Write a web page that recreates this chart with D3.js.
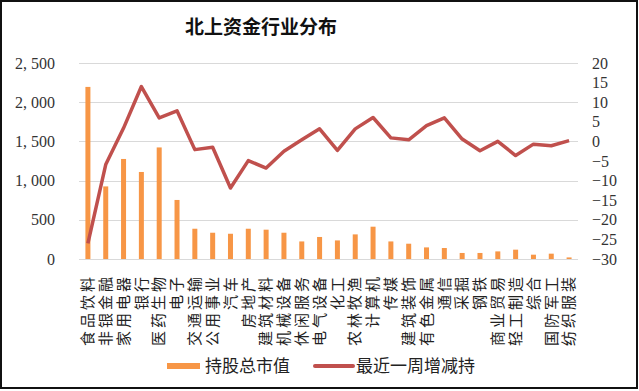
<!DOCTYPE html>
<html>
<head>
<meta charset="utf-8">
<script src="https://cdn.jsdelivr.net/npm/d3@7"></script>
<style>
    body { margin: 0; background: #fff; }
    text { font-family: "Noto Sans CJK SC", sans-serif; fill: #333; }
    .num { font-family: "Liberation Serif", "DejaVu Serif", serif; }
</style>
</head>
<body>
<svg id="chart" width="639" height="391"></svg>
<script>
/**
 * 北上资金行业分布 - bars for holdings, line for weekly change
 */

let categories = ["食品饮料", "非银金融", "家用电器", "银行", "医药生物", "电子", "交通运输",
    "公用事业", "汽车", "房地产", "建筑材料", "机械设备", "休闲服务", "电气设备", "化工",
    "农林牧渔", "计算机", "传媒", "建筑装饰", "有色金属", "通信", "采掘", "钢铁", "商业贸易",
    "轻工制造", "综合", "国防军工", "纺织服装"];

// 持股总市值
let holdValues = [2195, 926, 1276, 1110, 1423, 753, 386, 335, 322, 386, 374, 335, 224, 281,
    237, 314, 412, 224, 195, 148, 140, 77, 77, 97, 119, 55, 68, 20];

// 最近一周增减持
let changeValues = [-26, -5.9, 3.4, 14.0, 6.0, 7.8, -2.1, -1.5, -11.9, -4.9, -6.8, -2.5, 0.4,
    3.2, -2.3, 3.2, 6.1, 0.9, 0.4, 4.0, 6.0, 0.6, -2.4, 0, -3.6, -0.7, -1.1, 0.2];

let leftTicks = [0, 500, 1000, 1500, 2000, 2500];
let rightTicks = [-30, -25, -20, -15, -10, -5, 0, 5, 10, 15, 20];

let margin = {
    top: 63,
    left: 79,
    bottom: 132,
    right: 61
};

let barColor = "#F79646";
let lineColor = "#C0504D";
let gridColor = "#D9D9D9";

let svg = d3.select("#chart");
let width = +svg.attr("width");
let height = +svg.attr("height");

let x = d3.scaleBand()
    .domain(categories)
    .range([margin.left, width - margin.right]);

let yLeft = d3.scaleLinear()
    .domain([0, 2500])
    .range([height - margin.bottom, margin.top]);

let yRight = d3.scaleLinear()
    .domain([-30, 20])
    .range([height - margin.bottom, margin.top]);

// frame around the whole picture
svg.append("rect")
    .attr("x", 1)
    .attr("y", 1)
    .attr("width", 636)
    .attr("height", 387)
    .attr("fill", "none")
    .attr("stroke", "#111")
    .attr("stroke-width", 2);

// title
svg.append("text")
    .attr("x", 261)
    .attr("y", 27)
    .attr("dy", "0.35em")
    .attr("text-anchor", "middle")
    .attr("font-size", 19)
    .attr("font-weight", 600)
    .style("fill", "#111")
    .text("北上资金行业分布");

// gridlines
svg.append("g")
    .selectAll("line")
    .data(leftTicks)
    .enter()
    .append("line")
    .attr("x1", margin.left)
    .attr("x2", width - margin.right)
    .attr("y1", d => Math.round(yLeft(d)) + 0.5)
    .attr("y2", d => Math.round(yLeft(d)) + 0.5)
    .attr("stroke", gridColor)
    .attr("stroke-width", 1);

// left axis labels
svg.append("g")
    .selectAll("text")
    .data(leftTicks)
    .enter()
    .append("text")
    .attr("class", "num")
    .attr("x", 55)
    .attr("y", d => yLeft(d))
    .attr("dy", "0.35em")
    .attr("text-anchor", "end")
    .attr("font-size", 16)
    .text(d => d3.format(",")(d).replace(",", ", "));

// right axis labels
svg.append("g")
    .selectAll("text")
    .data(rightTicks)
    .enter()
    .append("text")
    .attr("class", "num")
    .attr("x", 592)
    .attr("y", d => yRight(d))
    .attr("dy", "0.35em")
    .attr("font-size", 16)
    .text(d => d < 0 ? "\u2212" + Math.abs(d) : d);

// bars
let barWidth = 5;
svg.append("g")
    .selectAll("rect")
    .data(holdValues)
    .enter()
    .append("rect")
    .attr("x", (d, i) => x(categories[i]) + x.bandwidth() / 2 - barWidth / 2)
    .attr("y", d => yLeft(d))
    .attr("width", barWidth)
    .attr("height", d => yLeft(0) - yLeft(d))
    .attr("fill", barColor);

// line
let line = d3.line()
    .x((d, i) => x(categories[i]) + x.bandwidth() / 2)
    .y(d => yRight(d));

svg.append("path")
    .datum(changeValues)
    .attr("d", line)
    .attr("fill", "none")
    .attr("stroke", lineColor)
    .attr("stroke-width", 3.5)
    .attr("stroke-linejoin", "round");

// category labels, rotated to read bottom-to-top
svg.append("g")
    .selectAll("text")
    .data(categories)
    .enter()
    .append("text")
    .attr("transform", d => "translate(" + (x(d) + x.bandwidth() / 2) + "," + 274 + ") rotate(-90)")
    .attr("dy", "0.35em")
    .attr("text-anchor", "end")
    .attr("font-size", 15)
    .attr("letter-spacing", 3)
    .style("fill", "#222")
    .text(d => d);

// legend
let legend = svg.append("g");
legend.append("rect")
    .attr("x", 167)
    .attr("y", 363)
    .attr("width", 33)
    .attr("height", 6)
    .attr("fill", barColor);
legend.append("text")
    .attr("x", 205)
    .attr("y", 366)
    .attr("dy", "0.35em")
    .attr("font-size", 17)
    .style("fill", "#222")
    .text("持股总市值");
legend.append("line")
    .attr("x1", 315)
    .attr("x2", 353)
    .attr("y1", 366)
    .attr("y2", 366)
    .attr("stroke", lineColor)
    .attr("stroke-width", 4)
    .attr("stroke-linecap", "round");
legend.append("text")
    .attr("x", 356)
    .attr("y", 366)
    .attr("dy", "0.35em")
    .attr("font-size", 17)
    .style("fill", "#222")
    .text("最近一周增减持");
</script>
</body>
</html>
